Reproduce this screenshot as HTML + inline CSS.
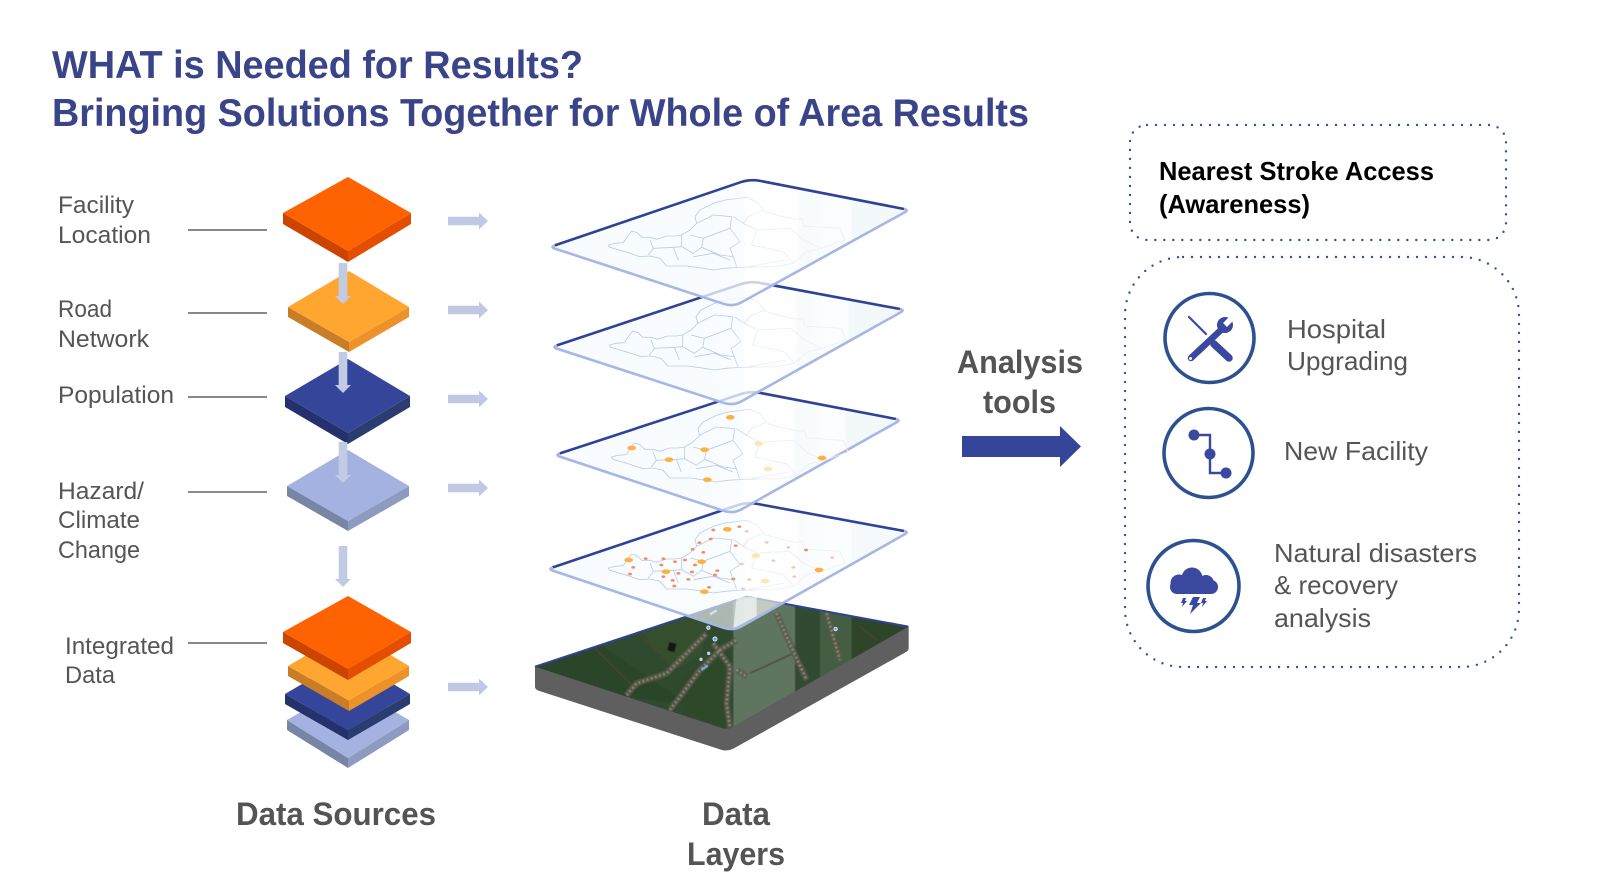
<!DOCTYPE html>
<html lang="en">
<head>
<meta charset="utf-8">
<title>WHAT is Needed for Results?</title>
<style>
html,body{margin:0;padding:0;background:#fff;width:1600px;height:895px;overflow:hidden}
svg{display:block}
text{font-family:"Liberation Sans",Arial,sans-serif}
.t{font-size:39px;font-weight:700;fill:#3a4488}
.l{font-size:24px;fill:#555}
.h{font-size:32px;font-weight:700;fill:#545454}
.r{font-size:26px;fill:#555}
.k{font-size:26px;font-weight:700;fill:#000}
</style>
</head>
<body>
<svg width="1600" height="895" viewBox="0 0 1600 895" xmlns="http://www.w3.org/2000/svg">
<defs>
<filter id="soft" x="-5%" y="-5%" width="110%" height="110%"><feGaussianBlur stdDeviation="1.8"/></filter>
<filter id="softer" x="-5%" y="-5%" width="110%" height="110%"><feGaussianBlur stdDeviation="0.8"/></filter>
<linearGradient id="g" x1="0" x2="1" y1="0" y2="0">
<stop offset="0" stop-color="#f5faff"/><stop offset=".545" stop-color="#f8fcff"/>
<stop offset=".545" stop-color="#ffffff"/><stop offset=".695" stop-color="#fdfefe"/>
<stop offset=".695" stop-color="#f5f9fb"/><stop offset=".77" stop-color="#f8fbfc"/>
<stop offset=".77" stop-color="#fafcfd"/><stop offset=".845" stop-color="#fbfcfd"/>
<stop offset=".845" stop-color="#eff5f8"/><stop offset="1" stop-color="#f0f6f8"/>
</linearGradient>
<linearGradient id="ms" gradientUnits="userSpaceOnUse" x1="680" x2="770" y1="0" y2="0">
<stop offset="0" stop-color="#bdc9ea"/><stop offset="1" stop-color="#eceff7"/>
</linearGradient>
<g id="map" fill="none" stroke="url(#ms)" stroke-width="2.6" stroke-linejoin="round" filter="url(#softer)">
<path d="M325 255L345 250L370 248L385 225L395 213L412 218L425 232L450 232L470 238L500 228L525 228L545 225L570 210L590 190L585 170L600 150L640 130L675 120L740 112L770 125L795 155L850 170L890 178L905 175L912 198L1020 205L1035 240L965 265L920 275L880 310L830 320L720 322L675 325L640 330L610 325L560 318L500 318L480 295L450 288L420 290L375 275L330 262Z"/>
<path d="M450 240L460 265L445 285M460 265L520 262L535 300M545 225L545 260L580 280L605 262L610 235L570 225M520 262L545 260M610 235L690 205L695 170L640 165L610 180L590 190M605 262L660 285L700 290L710 320M580 290L640 280L690 300M690 205L720 245L690 265L700 290M700 170L730 190L745 170L790 150M730 190L770 210L870 205L910 240L965 265M770 210L755 255L850 275L880 310M745 320L855 300"/>
</g>
<g id="big">
<g fill="#ffb13d"><ellipse cx="386" cy="270" rx="13" ry="7"/><ellipse cx="682" cy="178" rx="13" ry="7"/><ellipse cx="605" cy="275" rx="13" ry="7"/><ellipse cx="498" cy="305" rx="13" ry="7"/><ellipse cx="613" cy="365" rx="13" ry="7"/><ellipse cx="957" cy="300" rx="13" ry="7"/></g>
<g fill="#ffdf9f" opacity=".8"><ellipse cx="767" cy="257" rx="13" ry="7"/><ellipse cx="795" cy="333" rx="13" ry="7"/></g>
</g>
<polygon id="ra" points="448,-4.3 479,-4.3 479,-8.5 488,0 479,8.5 479,4.3 448,4.3" fill="#c0c9e3"/>
<polygon id="da" points="338.7,0 347.3,0 347.3,33 351,33 343,41 335,33 338.7,33" fill="#c2cbe4"/>
<clipPath id="sat"><path d="M105 590L740 380L1225 470L700 770Q680 782 660 772Z"/></clipPath>
</defs>

<!-- Title -->
<text class="t" x="52" y="78" textLength="531" lengthAdjust="spacingAndGlyphs">WHAT is Needed for Results?</text>
<text class="t" x="52" y="126" textLength="977" lengthAdjust="spacingAndGlyphs">Bringing Solutions Together for Whole of Area Results</text>

<!-- Left labels -->
<text class="l" x="58" y="213" textLength="76" lengthAdjust="spacingAndGlyphs">Facility</text>
<text class="l" x="58" y="243" textLength="93" lengthAdjust="spacingAndGlyphs">Location</text>
<text class="l" x="58" y="317" textLength="54" lengthAdjust="spacingAndGlyphs">Road</text>
<text class="l" x="58" y="347" textLength="91" lengthAdjust="spacingAndGlyphs">Network</text>
<text class="l" x="58" y="403" textLength="116" lengthAdjust="spacingAndGlyphs">Population</text>
<text class="l" x="58" y="499" textLength="86" lengthAdjust="spacingAndGlyphs">Hazard/</text>
<text class="l" x="58" y="528" textLength="82" lengthAdjust="spacingAndGlyphs">Climate</text>
<text class="l" x="58" y="558" textLength="82" lengthAdjust="spacingAndGlyphs">Change</text>
<text class="l" x="65" y="654" textLength="109" lengthAdjust="spacingAndGlyphs">Integrated</text>
<text class="l" x="65" y="683" textLength="50" lengthAdjust="spacingAndGlyphs">Data</text>
<g stroke="#777" stroke-width="1.8">
<line x1="188" x2="267" y1="230" y2="230"/><line x1="188" x2="267" y1="313" y2="313"/>
<line x1="188" x2="267" y1="397" y2="397"/><line x1="188" x2="267" y1="492" y2="492"/>
<line x1="188" x2="267" y1="643" y2="643"/>
</g>

<!-- Diamonds -->
<polygon points="283,213 348,251 348,262 283,224" fill="#cc4400"/><polygon points="411,213 348,251 348,262 411,224" fill="#e54e00"/><polygon points="348,177 411,213 348,251 283,213" fill="#ff6200"/>
<polygon points="288,307 349,342 349,352 288,317" fill="#c97d27"/><polygon points="409,307 349,342 349,352 409,317" fill="#ec9229"/><polygon points="349,271 409,307 349,342 288,307" fill="#ffa630"/>
<polygon points="285,396 348,433 348,444 285,407" fill="#24316d"/><polygon points="410,396 348,433 348,444 410,407" fill="#2b3c70"/><polygon points="348,359 410,396 348,433 285,396" fill="#35459a"/>
<polygon points="287,486 348,521 348,531 287,496" fill="#7886a5"/><polygon points="409,486 348,521 348,531 409,496" fill="#8d9bc0"/><polygon points="348,450 409,486 348,521 287,486" fill="#a3b2e0"/>
<!-- Stack -->
<polygon points="287,720 348,758 348,768 287,730" fill="#7886a5"/><polygon points="409,720 348,758 348,768 409,730" fill="#8d9bc0"/><polygon points="348,685 409,720 348,758 287,720" fill="#a3b2e0"/>
<polygon points="285,694 348,730 348,740 285,704" fill="#24316d"/><polygon points="410,694 348,730 348,740 410,704" fill="#2b3c70"/><polygon points="348,657 410,694 348,730 285,694" fill="#35459a"/>
<polygon points="288,666 349,701 349,711 288,676" fill="#c97d27"/><polygon points="409,666 349,701 349,711 409,676" fill="#ec9229"/><polygon points="349,630 409,666 349,701 288,666" fill="#ffa630"/>
<polygon points="283,632 348,669 348,680 283,643" fill="#cc4400"/><polygon points="411,632 348,669 348,680 411,643" fill="#e54e00"/><polygon points="348,596 411,632 348,669 283,632" fill="#ff6200"/>

<!-- Arrows -->
<use href="#da" y="263"/><use href="#da" y="352"/><use href="#da" y="442"/><use href="#da" y="546"/>
<use href="#ra" y="221"/><use href="#ra" y="310"/><use href="#ra" y="399"/><use href="#ra" y="488"/><use href="#ra" y="687"/>

<!-- Satellite base -->
<g transform="translate(500,470) scale(.33333)">
<path d="M105 590L105 650Q105 658 115 662L660 838Q680 846 700 836L1215 548Q1226 542 1226 535L1226 470L105 590Z" fill="#5f5f5f"/>
<g clip-path="url(#sat)">
<rect x="100" y="370" width="1130" height="420" fill="#2f4a2e"/>
<g filter="url(#soft)">
<polygon points="105,590 300,525 560,700 380,680" fill="#2b442a"/>
<polygon points="420,480 640,420 600,560 520,600" fill="#34502f"/>
<polygon points="520,640 680,530 680,770 560,740" fill="#2d4a2a"/>
<rect x="700" y="370" width="185" height="420" fill="#5f7561"/>
<rect x="885" y="370" width="75" height="420" fill="#304a30"/>
<rect x="960" y="370" width="95" height="420" fill="#445d42"/>
<rect x="1055" y="370" width="175" height="420" fill="#2e452c"/>
<g fill="none" stroke="#4a4536" stroke-width="4"><path d="M285 535L400 650M420 495L520 590M640 400L700 470M890 560L930 660M1080 470L1130 510M750 610L880 550"/></g>
<g fill="none" stroke-linejoin="round">
<g stroke="#5a5a4c" stroke-width="18" opacity=".85">
<path d="M380 675L410 640L500 610L540 570L620 490"/><path d="M510 720L600 600L660 540L710 510"/><path d="M640 520L690 590L680 700L690 775"/><path d="M830 430L860 500L920 630"/><path d="M980 430L1020 570"/><path d="M710 600L740 620"/></g>
<g stroke="#a39a88" stroke-width="7" stroke-dasharray="5 8" opacity=".85">
<path d="M380 675L410 640L500 610L540 570L620 490"/><path d="M510 720L600 600L660 540L710 510"/><path d="M640 520L690 590L680 700L690 775"/><path d="M830 430L860 500L920 630"/><path d="M980 430L1020 570"/><path d="M710 600L740 620"/></g>
</g>
<rect x="505" y="518" width="22" height="26" fill="#14170f" transform="rotate(15 515 530)"/>
</g>
</g>
<path d="M105 590L740 380L1225 470" fill="none" stroke="#2f4396" stroke-width="6"/>
<g fill="#5f9bf0" stroke="#dbe8fb" stroke-width="3"><circle cx="625" cy="473" r="5"/><circle cx="645" cy="507" r="6"/><circle cx="1007" cy="477" r="5"/></g>
<g fill="#bcd4f0"><circle cx="626" cy="550" r="5"/><circle cx="603" cy="568" r="5"/></g>
<path d="M604 600L624 587" stroke="#6fa6ea" stroke-width="7"/>
<path d="M630 433L650 421" stroke="#8fb8ec" stroke-width="7"/>
<polygon points="700,475 710,380 770,382 770,438" fill="#fff" opacity=".6"/>
</g>

<!-- Layer 4 -->
<g transform="translate(-8,0) scale(1.011,1)">
<path d="M554.7 567.4L737.5 505.2Q747 502 756.8 503.9L902.1 531Q907 532 902.6 534.4L741.7 626.1Q733 631 723.5 627.8L554.7 570.6Q550 569 554.7 567.4Z" fill="url(#g)" fill-opacity=".62"/>
<path d="M554.7 567.4L737.5 505.2Q747 502 756.8 503.9L902.1 531" fill="none" stroke="#2f4396" stroke-width="2.6"/>
<path d="M902.1 531Q907 532 902.6 534.4L741.7 626.1Q733 631 723.5 627.8L554.7 570.6Q550 569 554.7 567.4" fill="none" stroke="#a6b7e6" stroke-width="2.6"/>
</g>
<use href="#map" transform="translate(500,483) scale(.33333)"/>
<g transform="translate(500,470) scale(.33333)">
<use href="#big"/>
<g fill="#f58b62"><ellipse cx="640" cy="180" rx="6" ry="4"/><ellipse cx="718" cy="170" rx="6" ry="4"/><ellipse cx="632" cy="207" rx="6" ry="4"/><ellipse cx="598" cy="218" rx="6" ry="4"/><ellipse cx="707" cy="227" rx="6" ry="4"/><ellipse cx="578" cy="238" rx="6" ry="4"/><ellipse cx="610" cy="247" rx="6" ry="4"/><ellipse cx="437" cy="266" rx="6" ry="4"/><ellipse cx="490" cy="266" rx="6" ry="4"/><ellipse cx="525" cy="275" rx="6" ry="4"/><ellipse cx="555" cy="270" rx="6" ry="4"/><ellipse cx="400" cy="292" rx="6" ry="4"/><ellipse cx="484" cy="285" rx="6" ry="4"/><ellipse cx="585" cy="285" rx="6" ry="4"/><ellipse cx="390" cy="312" rx="6" ry="4"/><ellipse cx="535" cy="310" rx="6" ry="4"/><ellipse cx="576" cy="306" rx="6" ry="4"/><ellipse cx="652" cy="302" rx="6" ry="4"/><ellipse cx="490" cy="320" rx="6" ry="4"/><ellipse cx="645" cy="315" rx="6" ry="4"/><ellipse cx="518" cy="331" rx="6" ry="4"/><ellipse cx="565" cy="328" rx="6" ry="4"/><ellipse cx="700" cy="327" rx="6" ry="4"/><ellipse cx="523" cy="348" rx="6" ry="4"/><ellipse cx="627" cy="352" rx="6" ry="4"/><ellipse cx="918" cy="240" rx="6" ry="4"/></g>
<g fill="#f9c8b4"><ellipse cx="740" cy="184" rx="6" ry="4"/><ellipse cx="800" cy="217" rx="6" ry="4"/><ellipse cx="865" cy="232" rx="6" ry="4"/><ellipse cx="997" cy="263" rx="6" ry="4"/><ellipse cx="725" cy="282" rx="6" ry="4"/><ellipse cx="820" cy="272" rx="6" ry="4"/><ellipse cx="880" cy="292" rx="6" ry="4"/><ellipse cx="748" cy="329" rx="6" ry="4"/><ellipse cx="883" cy="320" rx="6" ry="4"/><ellipse cx="730" cy="356" rx="6" ry="4"/></g>
</g>

<!-- Layer 3 -->
<g transform="translate(-8,0) scale(1.011,1)">
<path d="M561.7 453.4L740.5 394.2Q750 391 759.8 392.9L894.1 419Q899 420 894.6 422.4L741.7 509.1Q733 514 723.5 510.8L561.7 456.6Q557 455 561.7 453.4Z" fill="url(#g)" fill-opacity=".76"/>
<path d="M561.7 453.4L740.5 394.2Q750 391 759.8 392.9L894.1 419" fill="none" stroke="#2f4396" stroke-width="2.6"/>
<path d="M894.1 419Q899 420 894.6 422.4L741.7 509.1Q733 514 723.5 510.8L561.7 456.6Q557 455 561.7 453.4" fill="none" stroke="#a6b7e6" stroke-width="2.6"/>
</g>
<use href="#map" transform="translate(503,372) scale(.33333)"/>
<use href="#big" transform="translate(503,358) scale(.33333)"/>

<!-- Layer 2 -->
<g transform="translate(-8,0) scale(1.011,1)">
<path d="M558.7 345.4L740.5 284.2Q750 281 759.8 282.9L898.1 309Q903 310 898.6 312.4L741.7 401.1Q733 406 723.5 402.8L558.7 348.6Q554 347 558.7 345.4Z" fill="url(#g)" fill-opacity=".76"/>
<path d="M558.7 345.4L740.5 284.2Q750 281 759.8 282.9L898.1 309" fill="none" stroke="#2f4396" stroke-width="2.6"/>
<path d="M898.1 309Q903 310 898.6 312.4L741.7 401.1Q733 406 723.5 402.8L558.7 348.6Q554 347 558.7 345.4" fill="none" stroke="#a6b7e6" stroke-width="2.6"/>
</g>
<use href="#map" transform="translate(501,260) scale(.33333)"/>

<!-- Layer 1 -->
<g transform="translate(-8,0) scale(1.011,1)">
<path d="M556.7 245.4L740.5 182.2Q750 179 759.8 180.9L902.1 209Q907 210 902.6 212.4L741.7 302.1Q733 307 723.5 303.8L556.7 248.6Q552 247 556.7 245.4Z" fill="url(#g)" fill-opacity=".76"/>
<path d="M556.7 245.4L740.5 182.2Q750 179 759.8 180.9L902.1 209" fill="none" stroke="#2f4396" stroke-width="2.6"/>
<path d="M902.1 209Q907 210 902.6 212.4L741.7 302.1Q733 307 723.5 303.8L556.7 248.6Q552 247 556.7 245.4" fill="none" stroke="#a6b7e6" stroke-width="2.6"/>
</g>
<use href="#map" transform="translate(500,160) scale(.33333)"/>

<!-- Headings -->
<text class="h" x="236" y="825" textLength="200" lengthAdjust="spacingAndGlyphs">Data Sources</text>
<text class="h" x="702" y="825" textLength="68" lengthAdjust="spacingAndGlyphs">Data</text>
<text class="h" x="687" y="865" textLength="98" lengthAdjust="spacingAndGlyphs">Layers</text>
<text class="h" x="957" y="373" textLength="126" lengthAdjust="spacingAndGlyphs">Analysis</text>
<text class="h" x="983" y="413" textLength="73" lengthAdjust="spacingAndGlyphs">tools</text>
<polygon points="962,436 1060,436 1060,426 1081,446.5 1060,467 1060,457 962,457" fill="#35459a"/>

<!-- Dotted boxes -->
<rect x="1130" y="125" width="376" height="115" rx="17" fill="none" stroke="#2d5096" stroke-width="2.4" stroke-linecap="round" stroke-dasharray="0 9"/>
<rect x="1125" y="257" width="394" height="410" rx="58" fill="none" stroke="#2d5096" stroke-width="2.4" stroke-linecap="round" stroke-dasharray="0 9"/>

<text class="k" x="1159" y="180" textLength="275" lengthAdjust="spacingAndGlyphs">Nearest Stroke Access</text>
<text class="k" x="1159" y="213" textLength="151" lengthAdjust="spacingAndGlyphs">(Awareness)</text>
<text class="r" x="1287" y="338" textLength="99" lengthAdjust="spacingAndGlyphs">Hospital</text>
<text class="r" x="1287" y="370" textLength="121" lengthAdjust="spacingAndGlyphs">Upgrading</text>
<text class="r" x="1284" y="460" textLength="144" lengthAdjust="spacingAndGlyphs">New Facility</text>
<text class="r" x="1274" y="562" textLength="203" lengthAdjust="spacingAndGlyphs">Natural disasters</text>
<text class="r" x="1274" y="594" textLength="124" lengthAdjust="spacingAndGlyphs">&amp; recovery</text>
<text class="r" x="1274" y="627" textLength="97" lengthAdjust="spacingAndGlyphs">analysis</text>

<!-- Icon circles -->
<g fill="none" stroke="#2d5190" stroke-width="3.6">
<circle cx="1209.500" cy="338" r="44.500"/><circle cx="1208.500" cy="453" r="44.500"/><circle cx="1193.500" cy="586" r="45.500"/>
</g>
<!-- Tools -->
<g stroke="#3a48a0" stroke-linecap="round" fill="none">
<line x1="1189" y1="317" x2="1206" y2="334" stroke-width="2.2"/>
<line x1="1214" y1="344" x2="1229" y2="358" stroke-width="7.500"/>
<line x1="1191" y1="358" x2="1222" y2="329" stroke-width="6.500"/>
</g>
<circle cx="1225" cy="325" r="8" fill="#3a48a0"/>
<line x1="1225" y1="325" x2="1236" y2="314" stroke="#fff" stroke-width="5.500"/>
<circle cx="1190.500" cy="358.500" r="1.500" fill="#fff"/>
<!-- Route -->
<path d="M1194 435H1210V473H1226" fill="none" stroke="#3a48a0" stroke-width="2.400"/>
<g fill="#3a48a0"><circle cx="1194" cy="435" r="5.500"/><circle cx="1210" cy="454" r="5.500"/><circle cx="1226" cy="473" r="5.500"/></g>
<!-- Cloud -->
<g fill="#3a48a0">
<rect x="1170" y="580" width="48" height="14" rx="7"/>
<circle cx="1179" cy="583" r="8.500"/><circle cx="1192" cy="578" r="10.500"/><circle cx="1206" cy="583" r="8"/>
<polygon points="1193,597 1200,597 1197,603 1201,603 1190,614 1193,605 1189,605"/>
<polygon points="1183,598 1186,598 1185,601 1187,601 1182,607 1183,603 1181,603"/>
<polygon points="1203,598 1206,598 1205,601 1207,601 1202,607 1203,603 1201,603"/>
</g>
</svg>
</body>
</html>
